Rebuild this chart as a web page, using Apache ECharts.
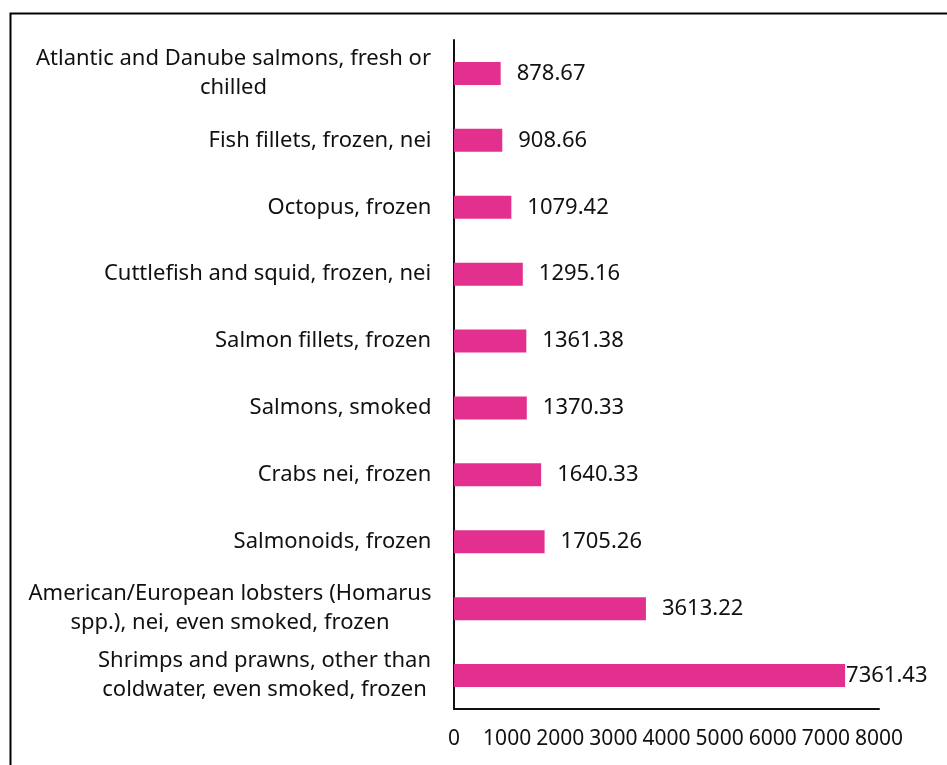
<!DOCTYPE html>
<html>
<head>
<meta charset="utf-8">
<script src="https://cdn.jsdelivr.net/npm/echarts@6/dist/echarts.min.js"></script>
<style>
html,body{margin:0;padding:0;background:#fff;}
#c{width:947px;height:765px;}
</style>
</head>
<body>
<div id="c"></div>
<script>
const categories = [
  "Atlantic and Danube salmons, fresh or\nchilled",
  "Fish fillets, frozen, nei",
  "Octopus, frozen",
  "Cuttlefish and squid, frozen, nei",
  "Salmon fillets, frozen",
  "Salmons, smoked",
  "Crabs nei, frozen",
  "Salmonoids, frozen",
  "American/European lobsters (Homarus\nspp.), nei, even smoked, frozen",
  "Shrimps and prawns, other than\ncoldwater, even smoked, frozen"
];
const values = [878.67, 908.66, 1079.42, 1295.16, 1361.38, 1370.33, 1640.33, 1705.26, 3613.22, 7361.43];
const xTicks = [0, 1000, 2000, 3000, 4000, 5000, 6000, 7000, 8000];

const FONT = '"Noto Sans", sans-serif';
const FS = 22;
const TICKFS = 21;
const canvas = document.createElement('canvas');
const ctx = canvas.getContext('2d');
ctx.font = FS + 'px ' + FONT;
const rich = {};
categories.forEach((c, i) => {
  const w = Math.max(...c.split('\n').map(s => ctx.measureText(s).width));
  rich['w' + i] = { width: Math.ceil(w) + 1, align: 'center', fontSize: FS, fontFamily: FONT, color: '#111', lineHeight: 29 };
});

const chart = echarts.init(document.getElementById('c'));
chart.setOption({
  animation: false,
  backgroundColor: '#fff',
  graphic: [{
    type: 'rect', left: 8, top: 11,
    shape: { width: 1000, height: 1000 },
    style: { fill: 'none', stroke: '#000', lineWidth: 2 }
  }],
  grid: { left: 454, right: 68, top: 40, bottom: 56, containLabel: false },
  xAxis: {
    type: 'value', min: 0, max: 8000, interval: 1000,
    axisLine: { show: true, lineStyle: { color: '#111', width: 2 } },
    axisTick: { show: false },
    splitLine: { show: false },
    axisLabel: { margin: 20, fontSize: TICKFS, fontFamily: FONT, color: '#111',
      formatter: v => xTicks.includes(v) ? String(v) : '' }
  },
  yAxis: {
    type: 'category', inverse: true, data: categories,
    axisLine: { show: true, lineStyle: { color: '#111', width: 2 } },
    axisTick: { show: false },
    axisLabel: {
      margin: 22, align: 'right', rich: rich,
      formatter: (v, i) => v.split('\n').map(s => '{w' + i + '|' + s + '}').join('\n')
    }
  },
  series: [{
    type: 'bar', barWidth: 23,
    data: values.map((v, i) => ({
      value: v,
      label: { distance: i === values.length - 1 ? 1 : 16 }
    })),
    itemStyle: { color: '#E3308F' },
    label: { show: true, position: 'right', fontSize: FS, fontFamily: FONT, color: '#111',
      formatter: p => p.value.toFixed(2) }
  }]
});
</script>
</body>
</html>
